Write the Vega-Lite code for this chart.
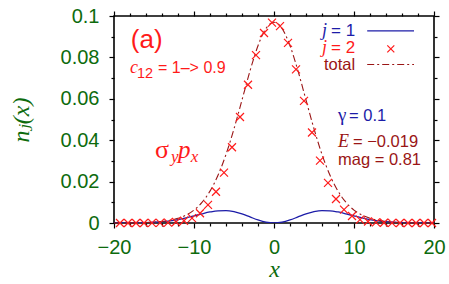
{
  "$schema": "https://vega.github.io/schema/vega-lite/v6.json",
  "width": 320,
  "height": 207,
  "autosize": "none",
  "padding": {"left": 114, "top": 16, "right": 15, "bottom": 61},
  "background": "white",
  "config": {
    "view": {"stroke": "black", "strokeWidth": 1.6},
    "axis": {
      "grid": false, "domain": false, "tickColor": "black", "tickWidth": 1.2,
      "labelColor": "#0d6b0d", "labelFont": "Liberation Sans", "labelFontSize": 20,
      "labelFlush": false, "labelOverlap": false,
      "titleColor": "#0d6b0d", "titleFont": "Liberation Serif", "titleFontStyle": "italic",
      "titleFontWeight": "normal", "titleFontSize": 24
    }
  },
  "datasets": {
    "j1": [
      {"x": -20, "n": 0.0000083}, {"x": -19, "n": 0.00002}, {"x": -18, "n": 0.000044}, {"x": -17, "n": 0.000093},
      {"x": -16, "n": 0.000186}, {"x": -15, "n": 0.000351}, {"x": -14, "n": 0.000626}, {"x": -13, "n": 0.001052},
      {"x": -12, "n": 0.001662}, {"x": -11, "n": 0.002464}, {"x": -10, "n": 0.00342}, {"x": -9, "n": 0.004429},
      {"x": -8, "n": 0.005324}, {"x": -7, "n": 0.005903}, {"x": -6, "n": 0.005979}, {"x": -5, "n": 0.005448},
      {"x": -4, "n": 0.004354}, {"x": -3, "n": 0.002911}, {"x": -2, "n": 0.001464}, {"x": -1, "n": 0.000394},
      {"x": 0, "n": 0},
      {"x": 1, "n": 0.000394}, {"x": 2, "n": 0.001464}, {"x": 3, "n": 0.002911}, {"x": 4, "n": 0.004354},
      {"x": 5, "n": 0.005448}, {"x": 6, "n": 0.005979}, {"x": 7, "n": 0.005903}, {"x": 8, "n": 0.005324},
      {"x": 9, "n": 0.004429}, {"x": 10, "n": 0.00342}, {"x": 11, "n": 0.002464}, {"x": 12, "n": 0.001662},
      {"x": 13, "n": 0.001052}, {"x": 14, "n": 0.000626}, {"x": 15, "n": 0.000351}, {"x": 16, "n": 0.000186},
      {"x": 17, "n": 0.000093}, {"x": 18, "n": 0.000044}, {"x": 19, "n": 0.00002}, {"x": 20, "n": 0.0000083}
    ],
    "total": [
      {"x": -20, "n": 0.0000083}, {"x": -19, "n": 0.00002}, {"x": -18, "n": 0.000044}, {"x": -17, "n": 0.0000965},
      {"x": -16, "n": 0.000197}, {"x": -15, "n": 0.000385}, {"x": -14, "n": 0.00072}, {"x": -13, "n": 0.0013},
      {"x": -12, "n": 0.00226}, {"x": -11, "n": 0.00381}, {"x": -10, "n": 0.00624}, {"x": -9, "n": 0.00996},
      {"x": -8, "n": 0.01541}, {"x": -7, "n": 0.02305}, {"x": -6, "n": 0.03313}, {"x": -5, "n": 0.04552},
      {"x": -4, "n": 0.05943}, {"x": -3, "n": 0.07347}, {"x": -2, "n": 0.08566}, {"x": -1, "n": 0.09402},
      {"x": 0, "n": 0.097},
      {"x": 1, "n": 0.09402}, {"x": 2, "n": 0.08566}, {"x": 3, "n": 0.07347}, {"x": 4, "n": 0.05943},
      {"x": 5, "n": 0.04552}, {"x": 6, "n": 0.03313}, {"x": 7, "n": 0.02305}, {"x": 8, "n": 0.01541},
      {"x": 9, "n": 0.00996}, {"x": 10, "n": 0.00624}, {"x": 11, "n": 0.00381}, {"x": 12, "n": 0.00226},
      {"x": 13, "n": 0.0013}, {"x": 14, "n": 0.00072}, {"x": 15, "n": 0.000385}, {"x": 16, "n": 0.000197},
      {"x": 17, "n": 0.0000965}, {"x": 18, "n": 0.000044}, {"x": 19, "n": 0.00002}, {"x": 20, "n": 0.0000083}
    ],
    "j2": [
      {"x": -19.25, "n": 0.0000002}, {"x": -18.25, "n": 0.0000007}, {"x": -17.25, "n": 0.0000026}, {"x": -16.25, "n": 0.0000085},
      {"x": -15.25, "n": 0.000026}, {"x": -14.25, "n": 0.000074}, {"x": -13.25, "n": 0.000195}, {"x": -12.25, "n": 0.00048},
      {"x": -11.25, "n": 0.0011}, {"x": -10.25, "n": 0.00236}, {"x": -9.25, "n": 0.00471}, {"x": -8.25, "n": 0.00874},
      {"x": -7.25, "n": 0.01511}, {"x": -6.25, "n": 0.02437}, {"x": -5.25, "n": 0.0366}, {"x": -4.25, "n": 0.0512},
      {"x": -3.25, "n": 0.0668}, {"x": -2.25, "n": 0.0811}, {"x": -1.25, "n": 0.0918}, {"x": -0.25, "n": 0.0968},
      {"x": 0.75, "n": 0.0951}, {"x": 1.75, "n": 0.087}, {"x": 2.75, "n": 0.0742}, {"x": 3.75, "n": 0.059},
      {"x": 4.75, "n": 0.0437}, {"x": 5.75, "n": 0.0301}, {"x": 6.75, "n": 0.01936}, {"x": 7.75, "n": 0.01159},
      {"x": 8.75, "n": 0.00647}, {"x": 9.75, "n": 0.00336}, {"x": 10.75, "n": 0.00163}, {"x": 11.75, "n": 0.00073},
      {"x": 12.75, "n": 0.00031}, {"x": 13.75, "n": 0.00012}, {"x": 14.75, "n": 0.000044}, {"x": 15.75, "n": 0.000015},
      {"x": 16.75, "n": 0.000005}, {"x": 17.75, "n": 0.0000014}, {"x": 18.75, "n": 0.0000004}, {"x": 19.75, "n": 0.0000001}
    ]
  },
  "resolve": {"axis": {"x": "independent", "y": "independent"}},
  "layer": [
    {
      "data": {"name": "j1"},
      "mark": {"type": "line", "color": "#1c1ca8", "strokeWidth": 1.3, "interpolate": "monotone", "clip": true},
      "encoding": {
        "x": {"field": "x", "type": "quantitative", "scale": {"domain": [-20, 20], "nice": false, "zero": false},
          "axis": {"orient": "bottom", "values": [-20, -10, 0, 10, 20], "format": "d", "tickSize": 5, "labelPadding": 9, "title": "x", "titlePadding": 0}},
        "y": {"field": "n", "type": "quantitative", "scale": {"domain": [0, 0.1], "nice": false},
          "axis": {"orient": "left", "values": [0, 0.02, 0.04, 0.06, 0.08, 0.1], "format": "~g", "tickSize": 5, "labelPadding": 10, "title": "nⱼ(x)", "titleFont": "Liberation Serif, DejaVu Serif", "titleFontSize": 24, "titlePadding": 27}}
      }
    },
    {
      "data": {"name": "total"},
      "mark": {"type": "line", "color": "#9a1515", "strokeWidth": 1.1, "strokeDash": [7, 3, 2, 3], "interpolate": "monotone"},
      "encoding": {
        "x": {"field": "x", "type": "quantitative",
          "axis": {"orient": "bottom", "values": [-18, -16, -14, -12, -8, -6, -4, -2, 2, 4, 6, 8, 12, 14, 16, 18], "tickSize": 3, "labels": false, "title": null}},
        "y": {"field": "n", "type": "quantitative",
          "axis": {"orient": "left", "values": [0.01, 0.03, 0.05, 0.07, 0.09], "tickSize": 3, "labels": false, "title": null}}
      }
    },
    {
      "data": {"name": "j2"},
      "mark": {"type": "point", "shape": "M-1,-1L1,1M-1,1L1,-1", "size": 64, "filled": false, "stroke": "#ff1a1a", "strokeWidth": 1.2, "opacity": 1},
      "encoding": {
        "x": {"field": "x", "type": "quantitative",
          "axis": {"orient": "top", "values": [-20, -10, 0, 10, 20], "tickSize": 5, "labels": false, "title": null}},
        "y": {"field": "n", "type": "quantitative",
          "axis": {"orient": "right", "values": [0, 0.02, 0.04, 0.06, 0.08, 0.1], "tickSize": 5, "labels": false, "title": null}}
      }
    },
    {
      "data": {"values": [{"x": 11.65, "x2": 17.5, "y": 0.0928}]},
      "mark": {"type": "rule", "color": "#1c1ca8", "strokeWidth": 1.3},
      "encoding": {
        "x": {"field": "x", "type": "quantitative",
          "axis": {"orient": "top", "values": [-18, -16, -14, -12, -8, -6, -4, -2, 2, 4, 6, 8, 12, 14, 16, 18], "tickSize": 3, "labels": false, "title": null}},
        "x2": {"field": "x2"},
        "y": {"field": "y", "type": "quantitative",
          "axis": {"orient": "right", "values": [0.01, 0.03, 0.05, 0.07, 0.09], "tickSize": 3, "labels": false, "title": null}}
      }
    },
    {
      "data": {"values": [{"x": 11.65, "x2": 17.5, "y": 0.0766}]},
      "mark": {"type": "rule", "color": "#9a1515", "strokeWidth": 1.1, "strokeDash": [7, 3, 2, 3]},
      "encoding": {
        "x": {"field": "x", "type": "quantitative", "axis": null},
        "x2": {"field": "x2"},
        "y": {"field": "y", "type": "quantitative", "axis": null}
      }
    },
    {
      "data": {"values": [{"x": 14.6, "y": 0.0841}]},
      "mark": {"type": "point", "shape": "M-1,-1L1,1M-1,1L1,-1", "size": 49, "filled": false, "stroke": "#ff1a1a", "strokeWidth": 1.2, "opacity": 1},
      "encoding": {
        "x": {"field": "x", "type": "quantitative", "axis": null},
        "y": {"field": "y", "type": "quantitative", "axis": null}
      }
    },
    {
      "data": {"values": [{"x": 6.0, "y": 0.0905, "label": "j"}, {"x": 6.0, "y": 0.0821, "label": "j"}]},
      "mark": {"type": "text", "align": "left", "baseline": "alphabetic", "font": "Liberation Serif", "fontStyle": "italic", "fontSize": 18},
      "encoding": {
        "x": {"field": "x", "type": "quantitative", "axis": null},
        "y": {"field": "y", "type": "quantitative", "axis": null},
        "text": {"field": "label"},
        "color": {"field": "y", "type": "nominal", "scale": {"domain": [0.0905, 0.0821], "range": ["#1c1ca8", "#ff1a1a"]}, "legend": null}
      }
    },
    {
      "data": {"values": [{"x": 6.0, "y": 0.0905, "label": "= 1"}, {"x": 6.0, "y": 0.0821, "label": "= 2"}]},
      "mark": {"type": "text", "align": "left", "baseline": "alphabetic", "font": "Liberation Sans", "fontSize": 17, "dx": 9},
      "encoding": {
        "x": {"field": "x", "type": "quantitative", "axis": null},
        "y": {"field": "y", "type": "quantitative", "axis": null},
        "text": {"field": "label"},
        "color": {"field": "y", "type": "nominal", "scale": {"domain": [0.0905, 0.0821], "range": ["#1c1ca8", "#ff1a1a"]}, "legend": null}
      }
    },
    {
      "data": {"values": [{"x": 6.25, "y": 0.0739, "label": "total"}, {"x": 8.0, "y": 0.0282, "label": "mag = 0.81"}]},
      "mark": {"type": "text", "align": "left", "baseline": "alphabetic", "font": "Liberation Sans", "fontSize": 16.5, "color": "#9a1515"},
      "encoding": {
        "x": {"field": "x", "type": "quantitative", "axis": null},
        "y": {"field": "y", "type": "quantitative", "axis": null},
        "text": {"field": "label"}
      }
    },
    {
      "data": {"values": [{"x": 8.0, "y": 0.0367, "label": "E"}]},
      "mark": {"type": "text", "align": "left", "baseline": "alphabetic", "font": "Liberation Serif", "fontStyle": "italic", "fontSize": 18, "color": "#9a1515"},
      "encoding": {
        "x": {"field": "x", "type": "quantitative", "axis": null},
        "y": {"field": "y", "type": "quantitative", "axis": null},
        "text": {"field": "label"}
      }
    },
    {
      "data": {"values": [{"x": 8.0, "y": 0.0367, "label": "= −0.019"}]},
      "mark": {"type": "text", "align": "left", "baseline": "alphabetic", "font": "Liberation Sans", "fontSize": 16.5, "color": "#9a1515", "dx": 15},
      "encoding": {
        "x": {"field": "x", "type": "quantitative", "axis": null},
        "y": {"field": "y", "type": "quantitative", "axis": null},
        "text": {"field": "label"}
      }
    },
    {
      "data": {"values": [{"x": 8.0, "y": 0.0493, "label": "γ"}]},
      "mark": {"type": "text", "align": "left", "baseline": "alphabetic", "font": "Liberation Serif", "fontSize": 19, "color": "#1c1ca8"},
      "encoding": {
        "x": {"field": "x", "type": "quantitative", "axis": null},
        "y": {"field": "y", "type": "quantitative", "axis": null},
        "text": {"field": "label"}
      }
    },
    {
      "data": {"values": [{"x": 8.0, "y": 0.0493, "label": "= 0.1"}]},
      "mark": {"type": "text", "align": "left", "baseline": "alphabetic", "font": "Liberation Sans", "fontSize": 16.5, "color": "#1c1ca8", "dx": 11},
      "encoding": {
        "x": {"field": "x", "type": "quantitative", "axis": null},
        "y": {"field": "y", "type": "quantitative", "axis": null},
        "text": {"field": "label"}
      }
    },
    {
      "data": {"values": [{"x": -17.9, "y": 0.0845, "label": "(a)"}]},
      "mark": {"type": "text", "align": "left", "baseline": "alphabetic", "font": "Liberation Sans", "fontSize": 26, "color": "#ff1a1a"},
      "encoding": {
        "x": {"field": "x", "type": "quantitative", "axis": null},
        "y": {"field": "y", "type": "quantitative", "axis": null},
        "text": {"field": "label"}
      }
    },
    {
      "data": {"values": [{"x": -18.0, "y": 0.0725, "label": "c"}]},
      "mark": {"type": "text", "align": "left", "baseline": "alphabetic", "font": "Liberation Serif", "fontStyle": "italic", "fontSize": 18, "color": "#ff1a1a"},
      "encoding": {
        "x": {"field": "x", "type": "quantitative", "axis": null},
        "y": {"field": "y", "type": "quantitative", "axis": null},
        "text": {"field": "label"}
      }
    },
    {
      "data": {"values": [{"x": -18.0, "y": 0.0725, "label": "12"}]},
      "mark": {"type": "text", "align": "left", "baseline": "alphabetic", "font": "Liberation Sans", "fontSize": 14.5, "color": "#ff1a1a", "dx": 7, "dy": 5},
      "encoding": {
        "x": {"field": "x", "type": "quantitative", "axis": null},
        "y": {"field": "y", "type": "quantitative", "axis": null},
        "text": {"field": "label"}
      }
    },
    {
      "data": {"values": [{"x": -18.0, "y": 0.0725, "label": "= 1–> 0.9"}]},
      "mark": {"type": "text", "align": "left", "baseline": "alphabetic", "font": "Liberation Sans", "fontSize": 16, "color": "#ff1a1a", "dx": 28},
      "encoding": {
        "x": {"field": "x", "type": "quantitative", "axis": null},
        "y": {"field": "y", "type": "quantitative", "axis": null},
        "text": {"field": "label"}
      }
    },
    {
      "data": {"values": [{"x": -14.875, "y": 0.0314, "label": "σ"}]},
      "mark": {"type": "text", "align": "left", "baseline": "alphabetic", "font": "Liberation Serif", "fontSize": 26, "color": "#ff1a1a"},
      "encoding": {
        "x": {"field": "x", "type": "quantitative", "axis": null},
        "y": {"field": "y", "type": "quantitative", "axis": null},
        "text": {"field": "label"}
      }
    },
    {
      "data": {"values": [{"x": -14.875, "y": 0.0314, "label": "y"}, {"x": -12.4, "y": 0.0314, "label": "x"}]},
      "mark": {"type": "text", "align": "left", "baseline": "alphabetic", "font": "Liberation Serif", "fontStyle": "italic", "fontSize": 17, "color": "#ff1a1a", "dx": 16, "dy": 4},
      "encoding": {
        "x": {"field": "x", "type": "quantitative", "axis": null},
        "y": {"field": "y", "type": "quantitative", "axis": null},
        "text": {"field": "label"}
      }
    },
    {
      "data": {"values": [{"x": -14.875, "y": 0.0314, "label": "p"}]},
      "mark": {"type": "text", "align": "left", "baseline": "alphabetic", "font": "Liberation Serif", "fontStyle": "italic", "fontSize": 25, "color": "#ff1a1a", "dx": 23},
      "encoding": {
        "x": {"field": "x", "type": "quantitative", "axis": null},
        "y": {"field": "y", "type": "quantitative", "axis": null},
        "text": {"field": "label"}
      }
    }
  ]
}
